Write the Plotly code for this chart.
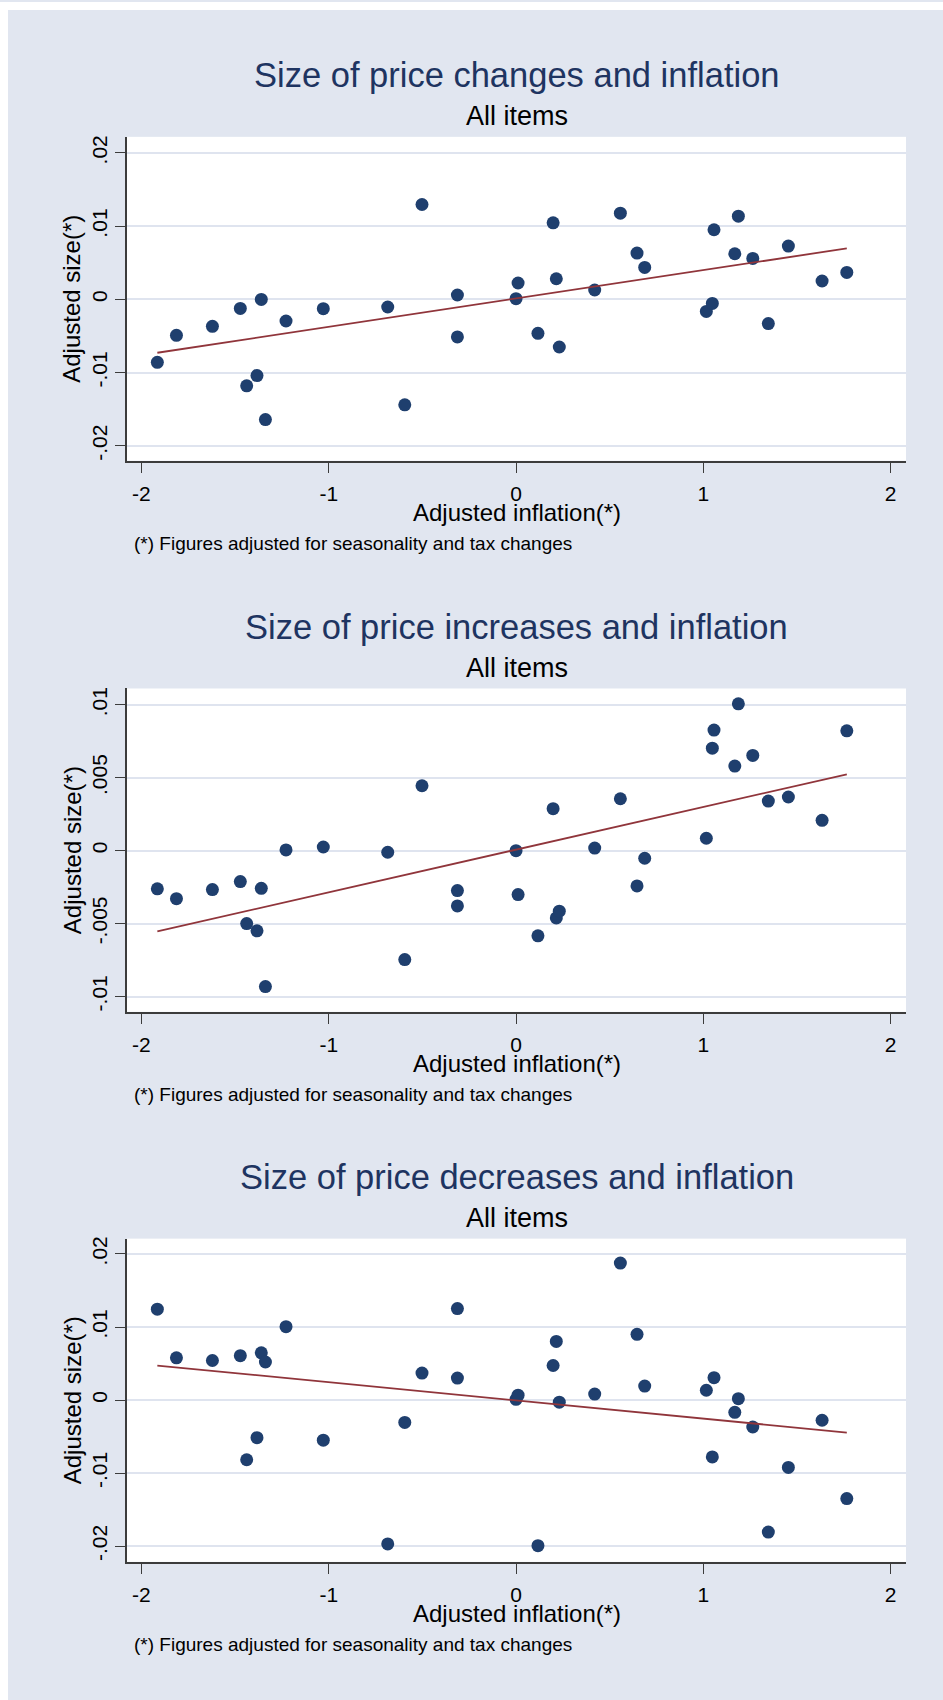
import plotly.graph_objects as go
import numpy as np

inflation = [-1.915, -1.813, -1.621, -1.472, -1.360, -1.438, -1.383, -1.338, -1.228, -1.029,
             -0.685, -0.594, -0.502, -0.313, -0.313, 0.000, 0.011, 0.198, 0.215, 0.117,
             0.231, 0.420, 0.557, 0.646, 0.687, 1.016, 1.048, 1.057, 1.187, 1.168,
             1.264, 1.347, 1.454, 1.634, 1.766]

size_changes = [-0.00859, -0.00491, -0.00368, -0.00123, 0.0000, -0.01181, -0.01040, -0.01641, -0.00295, -0.00127,
                -0.00104, -0.01440, 0.01296, 0.0006, -0.00513, 0.0001, 0.00224, 0.01046, 0.00282, -0.00464,
                -0.00650, 0.00128, 0.01178, 0.00633, 0.00437, -0.00164, -0.00055, 0.00951, 0.01137, 0.00623,
                0.00559, -0.00331, 0.00728, 0.00251, 0.00368]

size_increases = [-0.00262, -0.00329, -0.00267, -0.00212, -0.00258, -0.0050, -0.0055, -0.00932, 0.00005, 0.00025,
                  -0.00011, -0.00747, 0.00445, -0.00274, -0.00379, 0.0000, -0.00301, 0.00288, -0.00461, -0.00584,
                  -0.00415, 0.00018, 0.00356, -0.00242, -0.00052, 0.00085, 0.00703, 0.00827, 0.01007, 0.0058,
                  0.00653, 0.0034, 0.00368, 0.00208, 0.00822]

size_decreases = [0.01244, 0.00578, 0.00541, 0.00607, 0.00646, -0.00818, -0.00516, 0.00521, 0.01004, -0.0055,
                  -0.0197, -0.00306, 0.00369, 0.01253, 0.00301, 0.0001, 0.00067, 0.00473, 0.00803, -0.01994,
                  -0.00029, 0.00082, 0.01875, 0.009, 0.00191, 0.00134, -0.00779, 0.00306, 0.00019, -0.00168,
                  -0.00369, -0.01808, -0.00923, -0.00277, -0.01349]

titles = ["Size of price changes and inflation",
          "Size of price increases and inflation",
          "Size of price decreases and inflation"]
subtitle = "All items"
x_title = "Adjusted inflation(*)"
y_title = "Adjusted size(*)"
note = "(*) Figures adjusted for seasonality and tax changes"

x_tickvals = [-2, -1, 0, 1, 2]
x_ticktext = ["-2", "-1", "0", "1", "2"]
y_tickvals_wide = [-0.02, -0.01, 0, 0.01, 0.02]
y_ticktext_wide = ["-.02", "-.01", "0", ".01", ".02"]
y_tickvals_narrow = [-0.01, -0.005, 0, 0.005, 0.01]
y_ticktext_narrow = ["-.01", "-.005", "0", ".005", ".01"]

W, H = 943, 1700
FONT = "Liberation Sans, Arial, sans-serif"
BG = "#E1E6F0"
NAVY = "#1F3F6E"
MAROON = "#90353B"
TITLE_C = "#1E3461"
AXC = "#3C3C3C"
GRIDC = "#DFE4EF"

def py(y):
    return 1 - y / H

def px(x):
    return x / W

# page-pixel layout (figure placed at the page origin)
panels = [
    dict(y=size_changes, yr=[-0.02204, 0.0222], tv=y_tickvals_wide, tt=y_ticktext_wide,
         top=135, bot=459.3),
    dict(y=size_increases, yr=[-0.01105, 0.01112], tv=y_tickvals_narrow, tt=y_ticktext_narrow,
         top=687.3, bot=1011),
    dict(y=size_decreases, yr=[-0.02216, 0.0221], tv=y_tickvals_wide, tt=y_ticktext_wide,
         top=1238.1, bot=1561.7),
]

left, right = 127, 906
fig = go.Figure()
annotations = []
xarr = np.array(inflation)
for i, p in enumerate(panels):
    n = "" if i == 0 else str(i + 1)
    yarr = np.array(p["y"])
    slope, icpt = np.polyfit(xarr, yarr, 1)
    xs = np.array([xarr.min(), xarr.max()])
    fig.add_trace(go.Scatter(x=inflation, y=p["y"], mode="markers",
                             marker=dict(color=NAVY, size=13, line=dict(width=0)),
                             xaxis="x" + n, yaxis="y" + n, showlegend=False))
    fig.add_trace(go.Scatter(x=xs, y=slope * xs + icpt, mode="lines",
                             line=dict(color=MAROON, width=1.8),
                             xaxis="x" + n, yaxis="y" + n, showlegend=False))
    fig.layout["xaxis" + n] = dict(
        domain=[px(left), px(right)], anchor="y" + n, range=[-2.077, 2.082],
        tickvals=x_tickvals, ticktext=x_ticktext, ticks="outside", ticklen=10,
        tickwidth=1.2, tickcolor=AXC, showline=True, linecolor=AXC, linewidth=1.6,
        showgrid=False, zeroline=False, ticklabelstandoff=3,
        tickfont=dict(size=21, color="black", family=FONT), fixedrange=True)
    fig.layout["yaxis" + n] = dict(
        domain=[py(p["bot"]), py(p["top"])], anchor="x" + n, range=p["yr"],
        tickvals=p["tv"], ticktext=p["tt"], ticks="outside", ticklen=10,
        tickwidth=1.2, tickcolor=AXC, showline=True, linecolor=AXC, linewidth=1.6,
        showgrid=True, gridcolor=GRIDC, gridwidth=1.5, zeroline=False, tickangle=-90,
        tickfont=dict(size=21, color="black", family=FONT), fixedrange=True)
    cx = px((left + right) / 2)
    top, bot = p["top"], p["bot"]
    annotations += [
        dict(text=titles[i], x=cx, y=py(top - 61.5), xref="paper", yref="paper",
             showarrow=False, xanchor="center", yanchor="middle",
             font=dict(size=34.5, color=TITLE_C, family=FONT)),
        dict(text=subtitle, x=cx, y=py(top - 21), xref="paper", yref="paper",
             showarrow=False, xanchor="center", yanchor="middle",
             font=dict(size=27, color="black", family=FONT)),
        dict(text=x_title, x=cx, y=py(bot + 52), xref="paper", yref="paper",
             showarrow=False, xanchor="center", yanchor="middle",
             font=dict(size=24, color="black", family=FONT)),
        dict(text=y_title, x=px(72), y=py((top + bot) / 2), xref="paper", yref="paper",
             showarrow=False, xanchor="center", yanchor="middle", textangle=-90,
             font=dict(size=24, color="black", family=FONT)),
        dict(text=note, x=px(131.7), y=py(bot + 83), xref="paper", yref="paper",
             showarrow=False, xanchor="left", yanchor="middle",
             font=dict(size=19, color="black", family=FONT)),
    ]

# thin white border along the top and left edges, as in the reference image
shapes = [
    dict(type="rect", xref="paper", yref="paper", x0=0, x1=1, y0=py(8), y1=1,
         fillcolor="white", line=dict(width=0), layer="below"),
    dict(type="rect", xref="paper", yref="paper", x0=0, x1=px(8), y0=0, y1=1,
         fillcolor="white", line=dict(width=0), layer="below"),
]

fig.update_layout(width=W, height=H, margin=dict(l=0, r=0, t=0, b=0),
                  paper_bgcolor=BG, plot_bgcolor="white",
                  annotations=annotations, shapes=shapes, showlegend=False,
                  font=dict(family=FONT, color="black"))
fig.write_html("out.html",
               config={"displayModeBar": False},
               post_script="document.documentElement.style.overflow='hidden';"
                           "document.body.style.overflow='hidden';"
                           "document.body.style.margin='0';")
